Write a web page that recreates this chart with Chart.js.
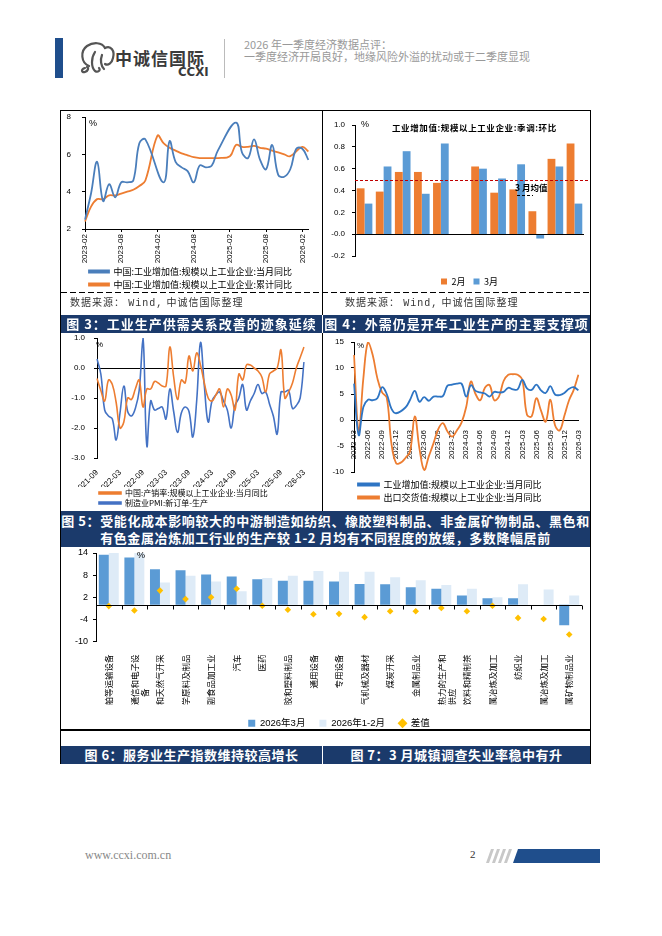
<!DOCTYPE html>
<html lang="zh-CN">
<head>
<meta charset="UTF-8">
<meta name="viewport" content="width=662">
<title>2026年一季度经济数据点评</title>
<script src="https://cdn.jsdelivr.net/npm/chart.js"></script>
<style>
  html, body { margin: 0; padding: 0; background: #fff; }
  .page { position: relative; width: 662px; height: 936px; overflow: hidden; font-family: 'Noto Sans CJK SC', sans-serif; }
  .page > * { position: absolute; }
  .hl { height: 1px; background: #000; }
  .vl { width: 1px; background: #000; }
  .cap { background: #1b3a6b; color: #fff; font-weight: 700; font-size: 13px; line-height: 18px; height: 18px; text-align: center; white-space: nowrap; letter-spacing: 1px; }
  .src { font-size: 10px; line-height: 14px; color: #333; letter-spacing: 1px; white-space: nowrap; }
  .src span { font-family: 'Liberation Mono', monospace; }
  .unit { font-size: 9px; font-family: 'Liberation Sans', sans-serif; color: #000; }
  .note { font-size: 8.5px; font-weight: 700; color: #000; white-space: nowrap; }
</style>
</head>
<body>
<div class="page">
  <!-- header -->
  <div style="left:55px;top:38px;width:8px;height:40px;background:#1f4e8c"></div>
  <svg style="left:78px;top:41px" width="38" height="33" viewBox="0 0 38 33" fill="none" stroke="#555" stroke-width="2.2" stroke-linecap="round">
    <path d="M11 25 C3 22 2 10 9 5 C15 1 24 1 27 7"/>
    <path d="M27 7 C33 4 37 10 35 17 C34 22 30 25 27 23"/>
    <path d="M17 11 C13 17 13 26 17 30 C20 32 23 29 21 27"/>
    <path d="M7 27 C3 28 3 32 7 31 C10 30 11 27 9 26"/>
    <path d="M24 14 C22 19 23 25 26 28"/>
  </svg>
  <div style="left:115px;top:49px;font-size:17px;line-height:18px;font-weight:700;color:#3a3a3a;letter-spacing:1px">中诚信国际</div>
  <div style="left:178px;top:65px;font-size:13px;line-height:13px;font-weight:700;color:#3a3a3a;font-family:'Liberation Sans Narrow','DejaVu Sans Condensed',sans-serif">CCXI</div>
  <div style="left:224px;top:39px;width:1px;height:39px;background:#bbb"></div>
  <div style="left:244px;top:38px;font-size:11px;line-height:12px;color:#999;white-space:nowrap">2026 年一季度经济数据点评：<br>一季度经济开局良好，地缘风险外溢的扰动或于二季度显现</div>

  <!-- frame -->
  <div class="hl" style="left:60px;top:110px;width:531px"></div>
  <div class="vl" style="left:60px;top:110px;height:654px"></div>
  <div class="vl" style="left:590px;top:110px;height:654px"></div>
  <div class="vl" style="left:322px;top:110px;height:205px"></div>
  <div class="vl" style="left:322px;top:333px;height:178px"></div>
  <div style="left:61px;top:292px;width:529px;height:1px;background:repeating-linear-gradient(to right,#000 0 6px,transparent 6px 9px)"></div>
  <div class="hl" style="left:61px;top:729px;width:529px;height:2px"></div>

  <!-- row 1 -->
  <canvas id="c3" width="258" height="187" style="left:62px;top:112px"></canvas>
  <canvas id="c4" width="267" height="184" style="left:323px;top:112px"></canvas>
  <div class="unit" style="left:89px;top:118px">%</div>
  <div class="unit" style="left:361px;top:119px">%</div>
  <div class="note" style="left:392px;top:121px;letter-spacing:0.6px">工业增加值:规模以上工业企业:季调:环比</div>
  <div class="note" style="left:515px;top:181px">3 月均值</div>
  <div style="left:517px;top:195px;width:16px;height:1px;background:repeating-linear-gradient(to right,#000 0 3px,transparent 3px 5px)"></div>
  <div class="src" style="left:70px;top:295px">数据来源： <span>Wind,</span> 中诚信国际整理</div>
  <div class="src" style="left:345px;top:295px">数据来源： <span>Wind,</span> 中诚信国际整理</div>
  <div class="cap" style="left:61px;top:315px;width:261px">图 3：工业生产供需关系改善的迹象延续</div>
  <div class="cap" style="left:323px;top:315px;width:267px">图 4：外需仍是开年工业生产的主要支撑项</div>

  <!-- row 2 -->
  <canvas id="c5" width="259" height="184" style="left:62px;top:333px"></canvas>
  <canvas id="c6" width="267" height="179" style="left:323px;top:333px"></canvas>
  <div class="unit" style="left:96px;top:340px;font-size:8px">%</div>
  <div class="unit" style="left:357px;top:341px;font-size:8px">%</div>
  <div class="cap" style="left:61px;top:511px;width:529px;height:35px;line-height:17px;padding-top:1px;letter-spacing:0.6px">图 5：受能化成本影响较大的中游制造如纺织、橡胶塑料制品、非金属矿物制品、黑色和<br>有色金属冶炼加工行业的生产较 1-2 月均有不同程度的放缓，多数降幅居前</div>

  <!-- row 3 -->
  <canvas id="c7" width="528" height="191" style="left:62px;top:547px"></canvas>
  <div class="unit" style="left:137px;top:550px">%</div>
  <div class="cap" style="left:61px;top:746px;width:261px;letter-spacing:0.5px">图 6：服务业生产指数维持较高增长</div>
  <div class="cap" style="left:323px;top:746px;width:267px;letter-spacing:0.5px">图 7：3 月城镇调查失业率稳中有升</div>

  <!-- footer -->
  <div style="left:85px;top:848px;font-size:12px;color:#888;font-family:'Liberation Serif',serif">www.ccxi.com.cn</div>
  <div style="left:470px;top:848px;font-size:11px;color:#333;font-family:'Liberation Serif',serif">2</div>
  <svg style="left:486px;top:849px" width="116" height="14" viewBox="0 0 116 14">
    <g fill="#c8c8c8">
      <polygon points="5,0 8,0 3,14 0,14"/>
      <polygon points="11,0 14,0 9,14 6,14"/>
      <polygon points="17,0 20,0 15,14 12,14"/>
      <polygon points="23,0 26,0 21,14 18,14"/>
    </g>
    <polygon points="32,0 114,0 114,14 27,14" fill="#1f4e8c"/>
  </svg>
</div>

<script>
  // ---------- data ----------
  function monthRange(start, end) {
    const out = [];
    let [y, m] = start.split('-').map(Number);
    const [ey, em] = end.split('-').map(Number);
    while (y < ey || (y === ey && m <= em)) {
      out.push(y + '-' + String(m).padStart(2, '0'));
      m++;
      if (m > 12) { m = 1; y++; }
    }
    return out;
  }

  // 图3: 工业增加值 当月同比 / 累计同比
  const c3Months = monthRange('2023-02', '2026-03');
  const c3Monthly = [2.5, 3.9, 5.6, 3.5, 4.4, 3.7, 4.5, 4.5, 4.6, 6.6, 6.8,
    null, null, 4.5, 6.7, 5.6, 5.3, 5.1, 4.5, 5.4, 5.3, 5.4, 6.2,
    null, null, 7.7, 6.1, 5.8, 6.8, 5.7, 5.2, 6.5, 4.9, 4.8, 5.2,
    6.3, 6.3, 5.7];
  const c3Cumulative = [2.4, 3.2, 3.6, 3.6, 3.8, 3.8, 3.9, 4.0, 4.1, 4.3, 4.6,
    null, 7.0, 6.6, 6.35, 6.2, 6.05, 5.95, 5.85, 5.8, 5.8, 5.8, 5.8,
    null, 5.9, 6.5, 6.4, 6.4, 6.45, 6.35, 6.3, 6.2, 6.1, 6.0, 5.9,
    null, 6.4, 6.15];

  // 图4: 季调环比, 2月 / 3月
  const c4Years = ['2015', '2016', '2017', '2018', '2019', '2020', '2021', '2022', '2023', '2024', '2025', '2026'];
  const c4Feb = [0.42, 0.39, 0.57, 0.57, 0.47, null, 0.62, 0.38, 0.41, 0.21, 0.69, 0.83];
  const c4Mar = [0.28, 0.62, 0.76, 0.37, 0.83, null, 0.60, 0.51, 0.64, -0.04, 0.62, 0.28];
  const c4MarchMean = 0.5;

  // 图5 (left): 产销率当月同比 / PMI 新订单-生产
  const c5Months = monthRange('2021-09', '2026-03');
  const c5SalesRatio = [-0.35, -0.75, -1.1, -0.4, -0.55, -1.15, -2.0, -1.8, -1.0, -1.05, -0.7, -0.4, -1.3,
    -0.7, -0.7, -0.45, -0.5, -0.6, -0.6, 0.7, -0.3, -1.05, -0.4, -0.5, 0.4, -0.1, 0.5, 0.1, -0.5, -1.0,
    -1.1, -0.9, -0.7, -1.3, -0.7, -0.9, -1.4, -0.2, -0.4, 0.1, 0.1, 0.0, -0.1, -0.3, -0.8, -0.2, -0.1,
    0.0, 0.6, -1.0, -0.8, -0.5, 0.0, 0.35, 0.7];
  const c5PmiGap = [0.3, -0.2, -1.4, -1.6, -1.7, -2.4, -1.5, -0.6, -1.45, -1.6, -1.35, -0.75, 1.0,
    -2.6, -1.1, -1.4, -1.35, -1.3, -1.7, -0.7, -1.45, -2.15, -1.5, -1.3, -1.45, -2.3, -1.1, 0.85, -0.6,
    -1.8, -1.1, -0.9, -0.8, -1.1, -1.4, -2.0, -1.25, -1.0, -0.55, -1.4, -1.1, -0.85, -0.55, -0.85, -0.8,
    -1.2, -1.6, -2.2, -0.8, -0.8, -0.75, -1.35, -1.25, -1.0, 0.2];

  // 图5 (right): 工业增加值 / 出口交货值 当月同比
  const c6Months = monthRange('2022-03', '2026-03');
  const c6Output = [7.0, -2.9, 2.5, 3.9, 3.8, 4.2, 6.3, 5.0, 2.2, 1.3, null, 2.4, 3.9, 5.6, 3.5, 4.4,
    3.7, 4.5, 4.5, 4.6, 6.6, 6.8, 7.0, 7.0, 4.5, 6.7, 5.6, 5.3, 5.1, 4.5, 5.4, 5.3, 5.4, 6.2, 5.9, 5.9,
    7.7, 6.1, 5.8, 6.8, 5.7, 5.2, 6.5, 4.9, 4.8, 5.2, 6.0, 6.3, 5.7];
  const c6Export = [12.5, -2.2, 8.0, 15.0, 12.5, 8.0, 5.3, 4.3, -4.5, -8.3, -8.2, -7.3, -6.0, 0.7,
    -5.5, -9.6, -7.0, -4.5, -1.8, -0.6, -2.2, -3.2, -2.0, -0.5, 2.5, 7.4, 5.0, 3.8, 6.2, 6.7, 3.8, 4.5,
    7.5, 8.7, 8.8, 8.7, 7.7, 1.0, 0.7, 4.2, 1.8, -0.3, 3.9, -1.0, -2.0, 0.8, 3.8, 5.8, 8.7];

  // 分行业增加值同比
  const c7Industries = ['铁路船舶等运输设备', '计算机通信和电子设备', '石油和天然气开采', '化学原料及制品',
    '农副食品加工业', '汽车', '医药', '橡胶和塑料制品', '通用设备', '专用设备', '电气机械及器材', '煤炭开采',
    '金属制品业', '电力、热力的生产和供应', '酒、饮料和精制茶', '黑色金属冶炼及加工', '纺织业',
    '有色金属冶炼及加工', '非金属矿物制品业'];
  const c7March = [13.5, 12.8, 9.6, 9.3, 8.2, 7.6, 6.9, 6.5, 6.5, 6.3, 5.6, 5.5, 4.7, 4.3, 2.5, 1.7, 1.7, 0, -5.6];
  const c7JanFeb = [14.0, 14.0, 6.0, 7.8, 6.3, 3.6, 7.2, 7.8, 9.1, 8.9, 8.9, 7.4, 6.6, 5.3, 4.3, 2.0, 5.5, 4.1, 2.5];
  const c7Diff = [-0.4, -1.6, 3.8, 1.5, 2.0, 4.3, -0.3, -1.4, -2.6, -2.5, -3.4, -1.8, -1.8, -0.9, -1.8, -0.3, -3.6, -3.9, -8.1];

  // ---------- shared ----------
  const SANS = "'Liberation Sans', 'Noto Sans CJK SC', sans-serif";
  const CJK = "'Noto Sans CJK SC', 'Liberation Sans', sans-serif";
  Chart.defaults.font.family = SANS;
  Chart.defaults.color = '#000';
  Chart.defaults.animation = false;
  Chart.defaults.plugins.tooltip.enabled = false;

  // horizontal line at value 0, optional small marks between categories
  function zeroLine(onTop, withTicks) {
    const draw = chart => {
      const { ctx, chartArea, scales: { x, y } } = chart;
      const y0 = Math.round(y.getPixelForValue(0)) + 0.5;
      ctx.save();
      ctx.strokeStyle = '#000';
      ctx.lineWidth = 1;
      ctx.beginPath();
      ctx.moveTo(chartArea.left, y0);
      ctx.lineTo(chartArea.right, y0);
      if (withTicks) {
        const step = x.getPixelForTick(1) - x.getPixelForTick(0);
        for (let i = 0; i <= x.ticks.length; i++) {
          const px = Math.round(x.getPixelForTick(0) + (i - 0.5) * step) + 0.5;
          ctx.moveTo(px, y0);
          ctx.lineTo(px, y0 + 4);
        }
      }
      ctx.stroke();
      ctx.restore();
    };
    return onTop ? { id: 'zeroLine', afterDatasetsDraw: draw } : { id: 'zeroLine', beforeDatasetsDraw: draw };
  }

  // value axis with a fixed width; label padding should not push the plot down
  const yAxisBase = (width, pad) => ({
    grid: { drawOnChartArea: false, tickLength: 3, color: '#000' },
    border: { color: '#000' },
    ticks: { font: { size: 8 }, padding: pad },
    afterFit: s => { s.width = width; s.paddingTop = 0; s.paddingBottom = 0; }
  });

  // ---------- 图3 ----------
  new Chart(document.getElementById('c3'), {
    type: 'line',
    data: {
      labels: c3Months,
      datasets: [
        { label: '中国:工业增加值:规模以上工业企业:当月同比', data: c3Monthly, borderColor: '#4a7ebb', backgroundColor: '#4a7ebb',
          borderWidth: 1.8, pointRadius: 0, tension: 0.4, spanGaps: true },
        { label: '中国:工业增加值:规模以上工业企业:累计同比', data: c3Cumulative, borderColor: '#ed7d31', backgroundColor: '#ed7d31',
          borderWidth: 1.8, pointRadius: 0, tension: 0.4, spanGaps: true }
      ]
    },
    options: {
      responsive: false,
      layout: { padding: { top: 5, right: 10 } },
      plugins: {
        legend: { position: 'bottom', align: 'start', fullSize: false,
          labels: { boxWidth: 20, boxHeight: 2, padding: 4, color: '#000', font: { size: 9, family: CJK } } }
      },
      scales: {
        x: {
          offset: false,
          grid: { drawOnChartArea: false, tickLength: 3, color: ctx => (ctx.index % 6 === 0 ? '#000' : 'rgba(0,0,0,0)') },
          border: { color: '#000' },
          ticks: { autoSkip: false, minRotation: 90, maxRotation: 90, padding: 2, font: { size: 8 },
            callback: function (v, i) { return i % 6 === 0 ? this.getLabelForValue(v) : ''; } },
          afterFit: s => { s.height = 34; }
        },
        y: Object.assign(yAxisBase(23, 11), { min: 2, max: 8, ticks: { stepSize: 2, font: { size: 8 }, padding: 11 } })
      }
    }
  });

  // ---------- 图4 ----------
  const meanLine = {
    id: 'meanLine',
    afterDatasetsDraw(chart) {
      const { ctx, chartArea, scales: { y } } = chart;
      const py = Math.round(y.getPixelForValue(c4MarchMean)) + 0.5;
      ctx.save();
      ctx.strokeStyle = '#c00000';
      ctx.lineWidth = 1;
      ctx.setLineDash([3, 2]);
      ctx.beginPath();
      ctx.moveTo(chartArea.left, py);
      ctx.lineTo(chartArea.right + 6, py);
      ctx.stroke();
      ctx.restore();
    }
  };

  new Chart(document.getElementById('c4'), {
    type: 'bar',
    data: {
      labels: c4Years,
      datasets: [
        { label: '2月', data: c4Feb, backgroundColor: '#ed7d31' },
        { label: '3月', data: c4Mar, backgroundColor: '#5b9bd5' }
      ]
    },
    options: {
      responsive: false,
      layout: { padding: { top: 13, right: 6 } },
      datasets: { bar: { categoryPercentage: 0.82, barPercentage: 1 } },
      plugins: {
        legend: { position: 'bottom', fullSize: false,
          labels: { boxWidth: 6, boxHeight: 6, padding: 8, color: '#000', font: { size: 9, family: CJK } } }
      },
      scales: {
        x: {
          grid: { display: false },
          border: { display: false },
          ticks: { autoSkip: false, minRotation: 90, maxRotation: 90, padding: 5, font: { size: 8 } },
          afterFit: s => { s.height = 13; }
        },
        y: Object.assign(yAxisBase(32, 7), {
          min: -0.2, max: 1.0,
          ticks: { stepSize: 0.2, font: { size: 8 }, padding: 7, callback: v => v.toFixed(1) }
        })
      }
    },
    plugins: [zeroLine(true, false), meanLine]
  });

  // ---------- 图5 left ----------
  new Chart(document.getElementById('c5'), {
    type: 'line',
    data: {
      labels: c5Months,
      datasets: [
        { label: '中国:产销率:规模以上工业企业:当月同比', data: c5SalesRatio, borderColor: '#ed7d31', backgroundColor: '#ed7d31',
          borderWidth: 1.6, pointRadius: 0, tension: 0.4 },
        { label: '制造业PMI:新订单-生产', data: c5PmiGap, borderColor: '#4472c4', backgroundColor: '#4472c4',
          borderWidth: 1.6, pointRadius: 0, tension: 0.4 }
      ]
    },
    options: {
      responsive: false,
      layout: { padding: { top: 5, right: 17 } },
      plugins: {
        legend: { position: 'bottom', align: 'start', fullSize: false,
          labels: { boxWidth: 22, boxHeight: 2, padding: 2, color: '#000', font: { size: 8, family: CJK } } }
      },
      scales: {
        x: {
          offset: false,
          grid: { display: false },
          border: { display: false },
          ticks: { autoSkip: false, minRotation: 45, maxRotation: 45, padding: 2, font: { size: 8 },
            callback: function (v, i) { return i % 6 === 0 ? this.getLabelForValue(v) : ''; } },
          afterFit: s => { s.height = 29; }
        },
        y: Object.assign(yAxisBase(35, 9), {
          min: -3, max: 1,
          ticks: { stepSize: 1, font: { size: 8 }, padding: 9, callback: v => v.toFixed(1) }
        })
      }
    },
    plugins: [zeroLine(false, false)]
  });

  // ---------- 图5 right ----------
  new Chart(document.getElementById('c6'), {
    type: 'line',
    data: {
      labels: c6Months,
      datasets: [
        { label: '工业增加值:规模以上工业企业:当月同比', data: c6Output, borderColor: '#2e75c4', backgroundColor: '#2e75c4',
          borderWidth: 1.8, pointRadius: 0, tension: 0.4, spanGaps: true },
        { label: '出口交货值:规模以上工业企业:当月同比', data: c6Export, borderColor: '#ed7d31', backgroundColor: '#ed7d31',
          borderWidth: 1.8, pointRadius: 0, tension: 0.4 }
      ]
    },
    options: {
      responsive: false,
      layout: { padding: { top: 9, right: 10 } },
      plugins: {
        legend: { position: 'bottom', align: 'start', fullSize: false,
          labels: { boxWidth: 21, boxHeight: 2, padding: 4, color: '#000', font: { size: 9, family: CJK } } }
      },
      scales: {
        x: {
          position: { y: 0 },
          offset: false,
          grid: { display: false },
          border: { color: '#000' },
          ticks: { autoSkip: false, minRotation: 90, maxRotation: 90, padding: 2, font: { size: 8 },
            callback: function (v, i) { return i % 3 === 0 ? this.getLabelForValue(v) : ''; } }
        },
        spacer: {
          type: 'category', position: 'bottom', labels: c6Months,
          ticks: { display: false }, grid: { display: false }, border: { display: false },
          afterFit: s => { s.height = 4; }
        },
        y: Object.assign(yAxisBase(31, 7), { min: -10, max: 15, ticks: { stepSize: 5, font: { size: 8 }, padding: 7 } })
      }
    }
  });

  // ---------- 分行业 ----------
  new Chart(document.getElementById('c7'), {
    data: {
      labels: c7Industries,
      datasets: [
        { type: 'bar', label: '2026年3月', data: c7March, backgroundColor: '#5b9bd5', pointStyle: 'rect' },
        { type: 'bar', label: '2026年1-2月', data: c7JanFeb, backgroundColor: '#deebf7', pointStyle: 'rect' },
        { type: 'line', label: '差值', data: c7Diff, showLine: false, order: -1, pointStyle: 'rectRot',
          pointRadius: 3.3, backgroundColor: '#ffc000', borderColor: '#ffc000', borderWidth: 0 }
      ]
    },
    options: {
      responsive: false,
      layout: { padding: { top: 6, right: 8 } },
      datasets: { bar: { categoryPercentage: 0.78, barPercentage: 1 } },
      plugins: {
        legend: { position: 'bottom', fullSize: false,
          labels: { usePointStyle: true, boxWidth: 7, boxHeight: 7, padding: 14, color: '#000',
            font: { size: 9.5, family: SANS }, sort: (a, b) => a.datasetIndex - b.datasetIndex } }
      },
      scales: {
        x: {
          grid: { display: false },
          border: { display: false },
          ticks: {
            autoSkip: false, minRotation: 90, maxRotation: 90, padding: 5,
            font: { size: 8.5, family: CJK },
            callback: function (v) {
              const s = this.getLabelForValue(v);
              if (s.length <= 9) return s;
              const rest = s.slice(9);
              return [s.slice(0, 9), rest + '\u3000'.repeat(Math.round((9 - rest.length) / 2))];
            }
          },
          afterFit: s => { s.height = 63; }
        },
        y: Object.assign(yAxisBase(34, 5), { min: -10, max: 14, ticks: { stepSize: 6, font: { size: 9 }, padding: 5 } })
      }
    },
    plugins: [zeroLine(true, true)]
  });
</script>
</body>
</html>
